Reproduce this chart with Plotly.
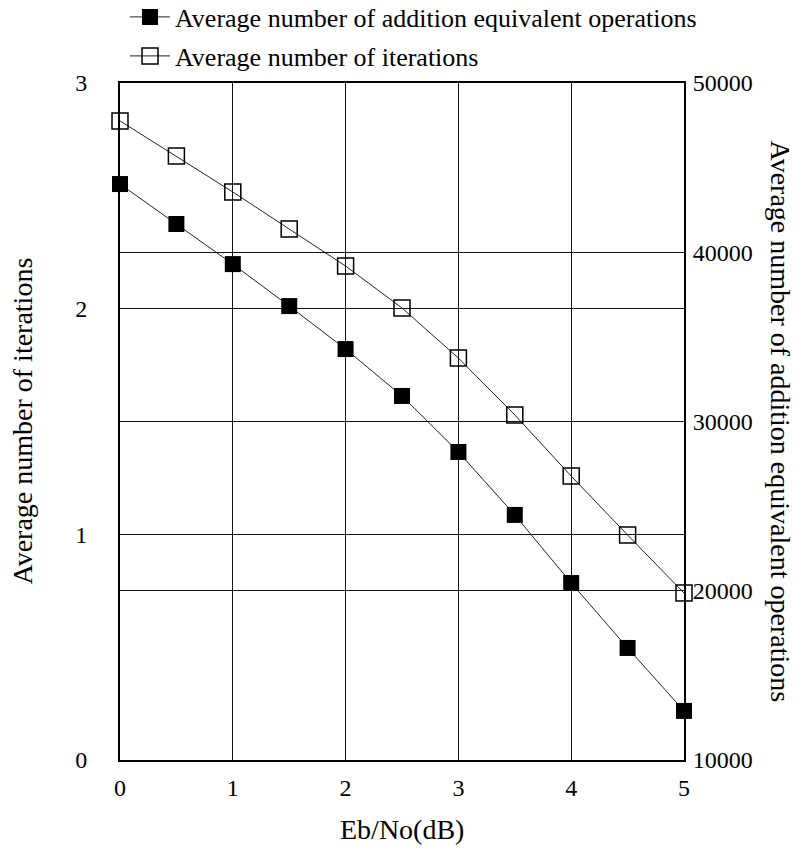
import plotly.graph_objects as go

ebno = [0, 0.5, 1, 1.5, 2, 2.5, 3, 3.5, 4, 4.5, 5]
add_ops = [44030, 41670, 39300, 36820, 34280, 31510, 28200, 24480, 20460, 16620, 12900]
iterations = [2.832, 2.676, 2.517, 2.353, 2.189, 2.003, 1.781, 1.529, 1.258, 0.997, 0.740]

left_ticks = [0, 1, 2, 3]
right_ticks = [10000, 20000, 30000, 40000, 50000]
x_ticks = [0, 1, 2, 3, 4, 5]

FONT = "Liberation Serif, serif"
L, R, T, B = 120, 112, 83, 94
W, H = 796, 854
PW, PH = W - L - R, H - T - B

fig = go.Figure()
fig.add_trace(go.Scatter(
    x=ebno, y=add_ops, yaxis="y2", mode="lines+markers",
    name="Average number of addition equivalent operations",
    line=dict(color="#222", width=1),
    marker=dict(symbol="square", size=16, color="black", line=dict(width=0)),
    cliponaxis=False, legend="legend", showlegend=True,
))
fig.add_trace(go.Scatter(
    x=ebno, y=iterations, yaxis="y", mode="lines+markers",
    name="Average number of iterations",
    line=dict(color="#222", width=1),
    marker=dict(symbol="square-open", size=16, color="black", line=dict(width=1.5)),
    cliponaxis=False, legend="legend2", showlegend=True,
))

def py(px):
    return (H - B - px) / PH

def pxx(px):
    return (px - L) / PW

fig.update_layout(
    width=W, height=H,
    margin=dict(l=L, r=R, t=T, b=B, autoexpand=False),
    paper_bgcolor="white", plot_bgcolor="white",
    showlegend=True,
    font=dict(family=FONT, color="black", size=24),
    xaxis=dict(range=[0, 5], tickvals=x_ticks, showgrid=True, gridcolor="#111", gridwidth=1,
               zeroline=False, showline=True, linecolor="black", linewidth=2, mirror=True,
               ticks="", ticklabelstandoff=5, tickfont=dict(size=24, family=FONT)),
    yaxis=dict(range=[0, 3], tickvals=left_ticks, showgrid=True, gridcolor="#111", gridwidth=1,
               zeroline=False, showline=True, linecolor="black", linewidth=2, mirror=True,
               ticks="", ticklabelstandoff=26, tickfont=dict(size=24, family=FONT)),
    yaxis2=dict(range=[10000, 50000], tickvals=right_ticks, tickformat="d", overlaying="y", side="right",
                showgrid=True, gridcolor="#111", gridwidth=1, zeroline=False,
                showline=True, linecolor="black", linewidth=2,
                ticks="", ticklabelstandoff=2, tickfont=dict(size=24, family=FONT)),
    legend=dict(x=pxx(125), y=py(17), xanchor="left", yanchor="middle", itemwidth=40,
                bgcolor="rgba(0,0,0,0)", font=dict(size=26, family=FONT), visible=True),
    legend2=dict(x=pxx(125), y=py(56), xanchor="left", yanchor="middle", itemwidth=40,
                 bgcolor="rgba(0,0,0,0)", font=dict(size=26, family=FONT), visible=True),
    annotations=[
        dict(text="Average number of iterations", xref="paper", yref="paper",
             x=pxx(22), y=0.5, textangle=-90, showarrow=False,
             xanchor="center", yanchor="middle", font=dict(size=28, family=FONT)),
        dict(text="Average number of addition equivalent operations", xref="paper", yref="paper",
             x=pxx(780), y=0.5, textangle=90, showarrow=False,
             xanchor="center", yanchor="middle", font=dict(size=28, family=FONT)),
        dict(text="Eb/No(dB)", xref="paper", yref="paper",
             x=pxx(402), y=py(830), showarrow=False,
             xanchor="center", yanchor="middle", font=dict(size=28, family=FONT)),
    ],
)

fig.write_html("out.html")
